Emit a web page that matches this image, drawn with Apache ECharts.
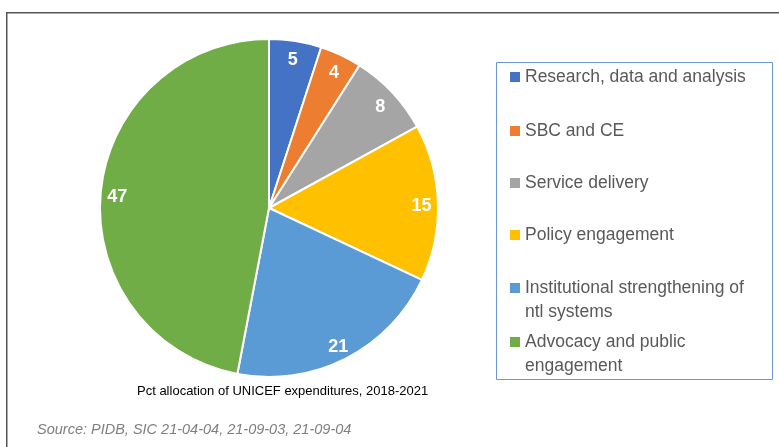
<!DOCTYPE html>
<html>
<head>
<meta charset="utf-8">
<script src="https://cdn.jsdelivr.net/npm/echarts@6/dist/echarts.min.js"></script>
<style>html,body{margin:0;padding:0;background:#fff}#c{width:779px;height:447px}</style>
</head>
<body>
<div id="c"></div>
<script>
const categories = ["Research, data and analysis", "SBC and CE", "Service delivery", "Policy engagement", "Institutional strengthening of ntl systems", "Advocacy and public engagement"];
const legendLines = [["Research, data and analysis"], ["SBC and CE"], ["Service delivery"], ["Policy engagement"], ["Institutional strengthening of", "ntl systems"], ["Advocacy and public", "engagement"]];
const values = [5, 4, 8, 15, 21, 47];
const colors = ["#4472C4", "#ED7D31", "#A5A5A5", "#FFC000", "#5B9BD5", "#70AD47"];
const titleText = "Pct allocation of UNICEF expenditures, 2018-2021";
const sourceText = "Source: PIDB, SIC 21-04-04, 21-09-03, 21-09-04";

const legendCenters = [77, 131, 183, 235, 288, 342]; // first-line centres
const LH = 24;

const chart = echarts.init(document.getElementById('c'), null, {renderer: 'canvas'});
const data = categories.map((n, i) => ({name: n, value: values[i], itemStyle: {color: colors[i]}}));

const txt = {fontFamily: 'Liberation Sans', fontSize: 17.5, color: '#595959', lineHeight: LH};
const legends = categories.map((n, i) => {
  const lines = legendLines[i];
  const multi = lines.length > 1;
  return {
    data: [n],
    orient: 'vertical',
    left: 510,
    top: multi ? legendCenters[i] - 36 : legendCenters[i] - 12,
    padding: 0,
    itemWidth: 10,
    itemHeight: 10,
    icon: 'rect',
    itemStyle: {borderWidth: 0},
    selectedMode: false,
    formatter: () => multi ? '{g| }\n' + lines.map(l => '{a|' + l + '}').join('\n') : lines[0],
    textStyle: Object.assign({}, txt, {
      rich: {a: Object.assign({}, txt), g: Object.assign({}, txt)}
    })
  };
});

chart.setOption({
  animation: false,
  title: [{
    text: titleText,
    left: 137, top: 384.5, padding: 0,
    textStyle: {fontFamily: 'Liberation Sans', fontSize: 13, fontWeight: 'normal', color: '#000'}
  }, {
    text: sourceText,
    left: 37, top: 422, padding: 0,
    textStyle: {fontFamily: 'Liberation Sans', fontSize: 14.5, fontStyle: 'italic', fontWeight: 'normal', color: '#7f7f7f'}
  }],
  legend: legends,
  graphic: [{
    type: 'rect', silent: true,
    shape: {x: 6.75, y: 12.75, width: 900, height: 600},
    style: {fill: 'none', stroke: '#555', lineWidth: 1.5}
  }, {
    type: 'rect', silent: true,
    shape: {x: 496.5, y: 62.5, width: 276, height: 317},
    style: {fill: 'none', stroke: '#6A95D6', lineWidth: 1}
  }],
  series: [{
    type: 'pie',
    center: [269, 208],
    radius: [0, 169],
    startAngle: 90,
    clockwise: true,
    label: {show: false},
    labelLine: {show: false},
    itemStyle: {borderColor: '#fff', borderWidth: 2},
    emphasis: {disabled: true},
    data: data
  }, {
    type: 'pie',
    center: [269, 208],
    radius: [130, 169],
    startAngle: 90,
    clockwise: true,
    silent: true,
    itemStyle: {color: 'rgba(0,0,0,0)', borderWidth: 0},
    label: {show: true, position: 'inside', formatter: '{c}', color: '#fff', fontFamily: 'Liberation Sans', fontWeight: 'bold', fontSize: 18, offset: [0, 3]},
    labelLine: {show: false},
    emphasis: {disabled: true},
    data: data.map(d => ({name: d.name, value: d.value, itemStyle: {color: 'rgba(0,0,0,0)'}}))
  }]
});
</script>
</body>
</html>
